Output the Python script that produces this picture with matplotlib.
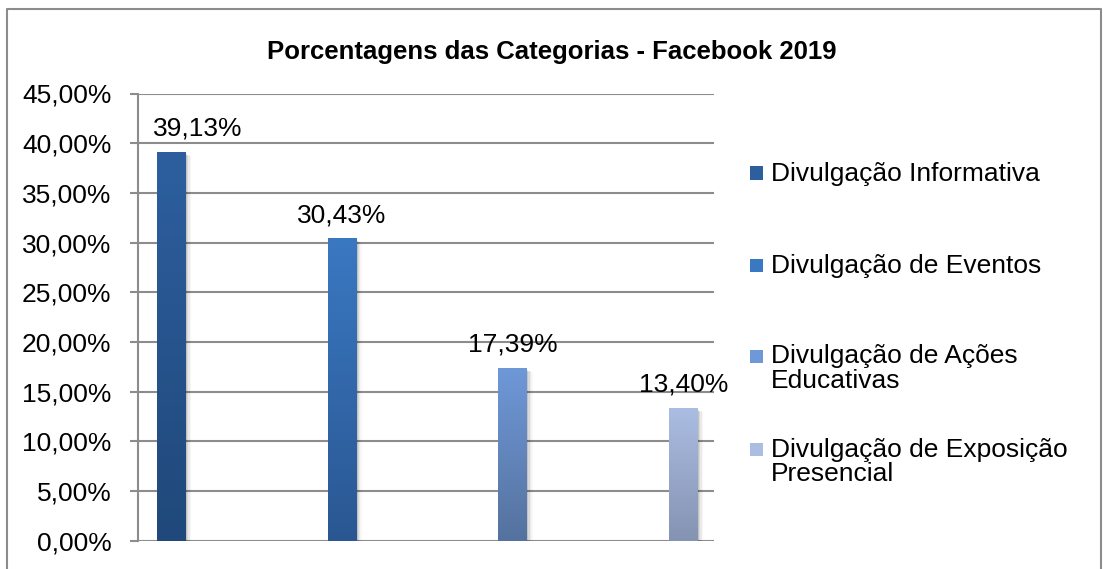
import numpy as np
import matplotlib
matplotlib.use('Agg')
import matplotlib.pyplot as plt
from matplotlib.colors import LinearSegmentedColormap
from matplotlib.lines import Line2D
from matplotlib.patches import Rectangle

plt.rcParams['font.family'] = ['Liberation Sans', 'DejaVu Sans']

categorias = ['Divulgação Informativa', 'Divulgação de Eventos',
              'Divulgação de Ações\nEducativas', 'Divulgação de Exposição\nPresencial']
valores = [39.13, 30.43, 17.39, 13.40]
rotulos = ['39,13%', '30,43%', '17,39%', '13,40%']
cores_topo = ['#2d5f9f', '#3a78c2', '#6f98d8', '#abbde2']
cores_base = ['#20487a', '#2a5792', '#55729e', '#8593b2']
yticks = np.arange(0, 46, 5)

W, H = 1103, 569
fig = plt.figure(figsize=(W / 100, H / 100), dpi=100)
ax = fig.add_axes([138 / W, 28.3 / H, 576 / W, 447.2 / H])

x = np.arange(len(valores))
largura = 0.165

# sombra suave à direita das barras
for k, a in enumerate([0.10, 0.07, 0.05, 0.03]):
    ax.bar(x + largura * (0.06 + 0.05 * k), valores, largura,
           bottom=-0.25 - 0.05 * k, color='black', alpha=a, linewidth=0, zorder=2)

barras = ax.bar(x, valores, largura, color='none', linewidth=0, zorder=3)
for b, c1, c2 in zip(barras, cores_topo, cores_base):
    cmap = LinearSegmentedColormap.from_list('g', [c2, c1])
    grad = np.linspace(0, 1, 256).reshape(-1, 1)
    x0, w, h = b.get_x(), b.get_width(), b.get_height()
    im = ax.imshow(grad, cmap=cmap, origin='lower', aspect='auto',
                   extent=(x0, x0 + w, 0, h), zorder=3)
    im.set_clip_path(b)

# o primeiro rótulo é deslocado para não invadir o eixo
desloc_x = [26.5, 0, 0, 0]
for xi, v, r, dx in zip(x, valores, rotulos, desloc_x):
    ax.annotate(r, (xi, v), xytext=(dx, 16), textcoords='offset pixels',
                ha='center', va='baseline', fontsize=19)

ax.set_xlim(-0.194, 3.18)
ax.set_ylim(0, 45)
ax.set_yticks(yticks)
ax.set_yticklabels([f'{t:.2f}%'.replace('.', ',') for t in yticks], fontsize=19)
ax.set_xticks([])
ax.grid(axis='y', color='#8c8c8c', linewidth=1.5, zorder=0)
ax.set_axisbelow(True)
for s in ['top', 'right', 'bottom']:
    ax.spines[s].set_visible(False)
ax.spines['left'].set_color('#8c8c8c')
ax.spines['left'].set_linewidth(1.5)
ax.tick_params(axis='y', length=6, width=1.5, color='#8c8c8c', pad=13)

fig.text(0.5, 1 - 52 / H, 'Porcentagens das Categorias - Facebook 2019',
         ha='center', va='center', fontsize=18.5, fontweight='bold')

# legenda manual
leg_y = [173, 265.5, 356, 449.5]
for yy, nome, c1 in zip(leg_y, categorias, cores_topo):
    fig.add_artist(Rectangle((750 / W, 1 - (yy + 6.5) / H), 13 / W, 13 / H,
                             transform=fig.transFigure, facecolor=c1, edgecolor='none'))
    fig.text(771 / W, 1 - (yy - 11.5) / H, nome, ha='left', va='top',
             fontsize=19, linespacing=1.02)

# moldura externa
cor_m = '#8c8c8c'
fig.add_artist(Line2D([7 / W, 7 / W, 1101 / W, 1101 / W],
                      [0, 1 - 9 / H, 1 - 9 / H, 0],
                      transform=fig.transFigure, color=cor_m, linewidth=1.5))

fig.savefig('out.png', dpi=100)
